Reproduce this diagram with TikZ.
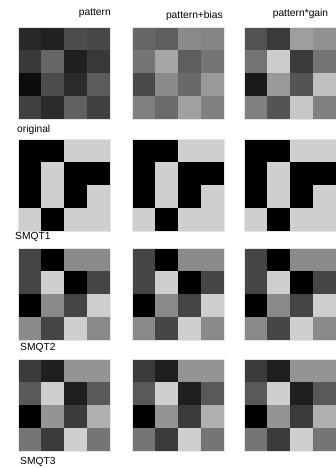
\documentclass[tikz,border=0pt]{standalone}
\usepackage{fontspec}
\setmainfont{Liberation Sans}
\tikzset{
  lbl/.style={font=\fontsize{10.3}{12}\selectfont, inner sep=0pt},
}
% #1 x levo, #2 y gore, #3 16 nivoa sive (procenat bele), red po red
\newcommand{\graypanel}[3]{%
  \foreach \v [count=\i from 0] in {#3}{
    \pgfmathtruncatemacro{\col}{mod(\i,4)}
    \pgfmathtruncatemacro{\row}{div(\i,4)}
    \fill[white!\v!black] ({#1+23*\col},{#2+23*\row}) rectangle ++(23,23);
  }%
  \draw[black!10, line width=0.5bp] (#1,#2) rectangle ++(92,92);
}
\begin{document}
\begin{tikzpicture}[x=1bp, y=-1bp]
    \useasboundingbox (0,0) rectangle (335,468);
    % naslovi kolona
    \node [lbl, anchor=east] (lblpat)  at (111,13.5)   {pattern};
    \node [lbl, anchor=east] (lblbias) at (223,15.5)   {pattern+bias};
    \node [lbl]              (lblgain) at (300.5,13.5) {pattern*gain};
    % original
    \graypanel{18}{27}{16,13,30,28, 22,40,12,22, 5,30,17,36, 25,17,38,25}
    \graypanel{132}{27}{40,37,54,52, 46,65,37,46, 29,54,41,60, 50,42,63,50}
    \graypanel{244}{27}{32,23,62,57, 45,80,23,45, 10,60,33,75, 50,33,78,50}
    % SMQT1, SMQT2, SMQT3 isti su za sve tri kolone
    \foreach \x in {18,132,244}{
        \graypanel{\x}{139}{0,0,81,81, 0,81,0,0, 0,81,0,81, 81,0,81,81}
        \graypanel{\x}{248}{27,0,54,54, 27,81,0,27, 0,54,27,81, 54,27,81,54}
        \graypanel{\x}{359}{23,12,58,58, 35,81,12,35, 0,58,23,69, 46,23,81,46}
    }
    % oznake redova
    \node [lbl, anchor=west] (lblorig)  at (17,130) {original};
    \node [lbl, anchor=west] (lblsmqta) at (15,237) {SMQT1};
    \node [lbl, anchor=west] (lblsmqtb) at (20,348) {SMQT2};
    \node [lbl, anchor=west] (lblsmqtc) at (20,462) {SMQT3};
\end{tikzpicture}
\end{document}
